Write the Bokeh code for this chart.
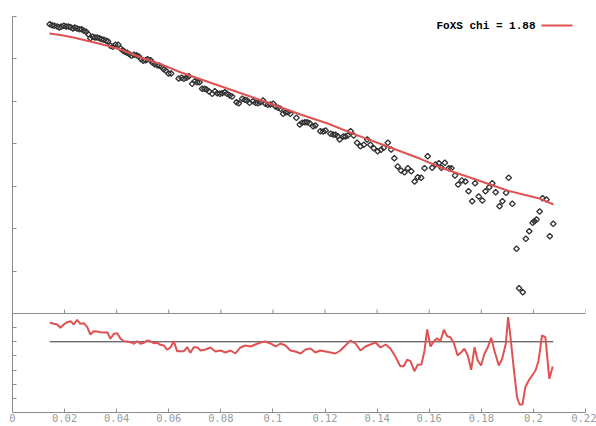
import math
from bokeh.plotting import figure
from bokeh.models import Range1d, FixedTicker, Label, BoxAnnotation, Span, CustomJSTickFormatter
from bokeh.embed import file_html
from bokeh.resources import INLINE

# ---- data (q in 1/A, top panel: log10 intensity, bottom: residual) ----
exp_q = [0.0143, 0.0152, 0.0161, 0.0172, 0.0180, 0.0188, 0.0197, 0.0206, 0.0215, 0.0223,
         0.0232, 0.0239, 0.0248, 0.0257, 0.0265, 0.0274, 0.0283, 0.0291, 0.0299, 0.0308,
         0.0316, 0.0325, 0.0334, 0.0342, 0.0351, 0.0360, 0.0367, 0.0376, 0.0385, 0.0395,
         0.0406, 0.0415, 0.0423, 0.0431, 0.0440, 0.0449, 0.0457, 0.0466, 0.0476, 0.0485,
         0.0494, 0.0502, 0.0511, 0.0519, 0.0530, 0.0537, 0.0546, 0.0556, 0.0564, 0.0572,
         0.0581, 0.0589, 0.0599, 0.0609, 0.0638, 0.0649, 0.0658, 0.0668, 0.0677, 0.0690,
         0.0700, 0.0709, 0.0718, 0.0728, 0.0737, 0.0745, 0.0755, 0.0767, 0.0777, 0.0786,
         0.0796, 0.0805, 0.0815, 0.0824, 0.0834, 0.0843, 0.0860, 0.0869, 0.0882, 0.0892,
         0.0901, 0.0910, 0.0923, 0.0933, 0.0942, 0.0952, 0.0962, 0.0971, 0.0980, 0.0990,
         0.1001, 0.1010, 0.1020, 0.1029, 0.1039, 0.1049, 0.1058, 0.1067, 0.1090, 0.1103,
         0.1112, 0.1122, 0.1131, 0.1141, 0.1154, 0.1163, 0.1182, 0.1193, 0.1202, 0.1221,
         0.1231, 0.1240, 0.1249, 0.1256, 0.1270, 0.1278, 0.1287, 0.1298, 0.1310, 0.1323,
         0.1336, 0.1349, 0.1362, 0.1374, 0.1387, 0.1402, 0.1415, 0.1425, 0.1441, 0.1454,
         0.1466, 0.1479, 0.1492, 0.1505, 0.1518, 0.1531, 0.1544, 0.1556, 0.1569, 0.1582,
         0.1594, 0.1611, 0.1624, 0.1637, 0.1647, 0.1660, 0.1675, 0.1685, 0.1699, 0.1711,
         0.1725, 0.1739, 0.1751, 0.1765, 0.1776, 0.1790, 0.1804, 0.1816, 0.1830, 0.1842,
         0.1855, 0.1870, 0.1881, 0.1895, 0.1905, 0.1919, 0.1935, 0.1945, 0.1959, 0.1971,
         0.1984, 0.1997, 0.2004, 0.2012, 0.2024, 0.2035, 0.2050, 0.2063, 0.2076]
exp_logI = [6.818, 6.795, 6.781, 6.764, 6.740, 6.764, 6.781, 6.764, 6.764, 6.748,
            6.717, 6.740, 6.717, 6.700, 6.700, 6.663, 6.639, 6.583, 6.488, 6.521,
            6.505, 6.505, 6.488, 6.465, 6.451, 6.427, 6.411, 6.309, 6.286, 6.333,
            6.333, 6.246, 6.206, 6.168, 6.144, 6.111, 6.074, 6.097, 6.088, 6.057,
            5.994, 5.956, 5.970, 5.994, 5.970, 5.916, 5.876, 5.852, 5.838, 5.814,
            5.758, 5.720, 5.656, 5.656, 5.539, 5.555, 5.531, 5.555, 5.593, 5.414,
            5.475, 5.451, 5.451, 5.296, 5.296, 5.279, 5.232, 5.178, 5.239, 5.192,
            5.178, 5.192, 5.216, 5.178, 5.138, 5.114, 4.980, 4.956, 5.060, 5.037,
            5.020, 4.966, 5.004, 4.966, 4.956, 4.980, 5.020, 4.942, 4.919, 4.926,
            4.942, 4.879, 4.848, 4.824, 4.707, 4.744, 4.744, 4.707, 4.612, 4.454,
            4.494, 4.509, 4.509, 4.485, 4.414, 4.431, 4.297, 4.289, 4.313, 4.235,
            4.219, 4.212, 4.179, 4.101, 4.172, 4.172, 4.195, 4.297, 4.195, 4.023,
            3.943, 3.976, 4.101, 3.976, 3.896, 3.825, 3.858, 3.905, 4.023, 3.865,
            3.660, 3.465, 3.370, 3.330, 3.424, 3.354, 3.111, 3.212, 3.198, 3.424,
            3.707, 3.434, 3.512, 3.542, 3.434, 3.552, 3.424, 3.424, 3.252, 3.040,
            3.135, 3.111, 2.882, 2.647, 3.071, 2.757, 2.663, 2.882, 2.977, 3.071,
            2.859, 2.529, 2.647, 2.845, 3.198, 2.585, 1.525, 0.596, 0.502, 1.761,
            1.940, 2.138, 2.175, 2.215, 2.404, 2.717, 2.687, 1.822, 2.114]

fit_q = [0.0142, 0.0184, 0.0234, 0.0299, 0.0365, 0.0426, 0.0491, 0.0568, 0.0645, 0.0772,
         0.0902, 0.1029, 0.1106, 0.1213, 0.1309, 0.1440, 0.1566, 0.1643, 0.1770, 0.1900,
         0.2027, 0.2077]
fit_logI = [6.599, 6.564, 6.505, 6.411, 6.309, 6.199, 6.033, 5.880, 5.687, 5.414,
            5.138, 4.862, 4.690, 4.471, 4.235, 3.936, 3.646, 3.441, 3.175, 2.899,
            2.703, 2.569]

res_q = [0.0143, 0.0159, 0.0172, 0.0184, 0.0197, 0.0210, 0.0223, 0.0235, 0.0248, 0.0261,
         0.0274, 0.0287, 0.0299, 0.0312, 0.0325, 0.0338, 0.0351, 0.0364, 0.0376, 0.0389,
         0.0402, 0.0415, 0.0427, 0.0440, 0.0453, 0.0466, 0.0479, 0.0491, 0.0504, 0.0517,
         0.0530, 0.0542, 0.0556, 0.0568, 0.0581, 0.0594, 0.0607, 0.0619, 0.0632, 0.0645,
         0.0658, 0.0671, 0.0683, 0.0696, 0.0709, 0.0722, 0.0741, 0.0760, 0.0779, 0.0799,
         0.0818, 0.0837, 0.0856, 0.0875, 0.0894, 0.0914, 0.0933, 0.0952, 0.0971, 0.0990,
         0.1010, 0.1029, 0.1048, 0.1067, 0.1086, 0.1106, 0.1125, 0.1144, 0.1163, 0.1182,
         0.1202, 0.1221, 0.1240, 0.1259, 0.1278, 0.1298, 0.1317, 0.1336, 0.1355, 0.1374,
         0.1394, 0.1413, 0.1432, 0.1451, 0.1470, 0.1489, 0.1502, 0.1515, 0.1528, 0.1543,
         0.1556, 0.1570, 0.1582, 0.1592, 0.1605, 0.1617, 0.1630, 0.1643, 0.1656, 0.1669,
         0.1681, 0.1694, 0.1709, 0.1723, 0.1735, 0.1748, 0.1761, 0.1774, 0.1786, 0.1799,
         0.1812, 0.1825, 0.1838, 0.1850, 0.1867, 0.1880, 0.1894, 0.1903, 0.1912, 0.1924,
         0.1937, 0.1947, 0.1958, 0.1969, 0.1982, 0.1995, 0.2008, 0.2020, 0.2033, 0.2046,
         0.2061, 0.2074]
res_val = [1.344, 1.273, 1.223, 0.990, 1.223, 1.386, 1.457, 1.223, 1.556, 1.273,
           1.315, 1.033, 0.516, 0.750, 0.728, 0.679, 0.658, 0.679, 0.212, 0.566,
           0.608, 0.212, 0.042, 0.021, -0.028, -0.141, 0.042, -0.141, -0.071, 0.092,
           0.021, -0.099, -0.071, -0.212, -0.262, -0.566, -0.382, 0.042, -0.665, -0.665,
           -0.665, -0.382, -0.778, -0.382, -0.382, -0.615, -0.545, -0.403, -0.686, -0.615,
           -0.757, -0.615, -0.827, -0.403, -0.262, -0.332, -0.191, -0.050, 0.021, -0.120,
           -0.332, -0.120, -0.262, -0.615, -0.686, -0.827, -0.545, -0.474, -0.757, -0.615,
           -0.686, -0.757, -0.827, -0.615, -0.262, 0.092, -0.120, -0.615, -0.332, -0.191,
           -0.050, -0.403, -0.191, -0.474, -1.040, -1.726, -1.726, -1.273, -1.372, -2.079,
           -1.627, -1.605, -0.615, 0.870, -0.332, 0.021, 0.255, 0.042, 0.849, 0.396,
           0.325, -0.071, -0.969, -0.736, -0.495, -0.969, -1.980, -0.382, -1.322, -1.676,
           -0.849, -0.382, 0.283, -0.615, -1.676, -1.202, -0.141, 1.740, 0.325, -1.796,
           -3.918, -4.434, -4.434, -3.211, -2.737, -2.383, -2.030, -1.322, 0.446, 0.325,
           -2.617, -1.747]

x_ticks = [0.0, 0.02, 0.04, 0.06, 0.08, 0.1, 0.12, 0.14, 0.16, 0.18, 0.2, 0.22]
x_tick_labels = ["0", "0.02", "0.04", "0.06", "0.08", "0.1", "0.12", "0.14", "0.16", "0.18", "0.2", "0.22"]
legend_text = "FoXS chi = 1.88"

RED = "#e05252"
AXIS = "#8c8c8c"

# residual scale: unit = 1/3 of top-panel decade; top panel value v <-> residual 2 + 3 v
p = figure(frame_width=573, frame_height=396, output_backend="svg", toolbar_location=None,
           x_range=Range1d(0, 0.22), y_range=Range1d(-5, 23),
           min_border_left=12, min_border_right=11, min_border_top=16, min_border_bottom=0)
p.extra_y_ranges = {"top": Range1d(-7.0 / 3.0, 7.0)}
p.outline_line_color = None
p.xgrid.visible = False
p.ygrid.visible = False
p.background_fill_color = "white"
p.border_fill_color = "white"

# axes
xa = p.xaxis[0]
xa.ticker = FixedTicker(ticks=x_ticks)
xa.major_label_overrides = {t: l for t, l in zip(x_ticks, x_tick_labels)}
xa.major_tick_in = 4
xa.major_tick_out = 0
xa.minor_tick_line_color = None
xa.axis_line_color = AXIS
xa.major_tick_line_color = AXIS
xa.major_label_standoff = 1
xa.major_label_text_font = "DejaVu Sans Mono"
xa.major_label_text_font_size = "10.5px"
xa.major_label_text_color = "#9a9a9a"

ya = p.yaxis[0]
ya.ticker = FixedTicker(ticks=[-5, -4, -3, -2, -1, 0, 1, 2, 5, 8, 11, 14, 17, 20, 23])
ya.formatter = CustomJSTickFormatter(code="return ''")
ya.major_tick_in = 4
ya.major_tick_out = 0
ya.minor_tick_line_color = None
ya.major_label_standoff = 0
ya.major_label_text_font_size = "1px"
ya.axis_line_color = AXIS
ya.major_tick_line_color = AXIS

# divider between panels with upward ticks
p.add_layout(Span(location=2, dimension="width", line_color=AXIS, line_width=1))
p.ray(x=x_ticks[1:], y=[2] * (len(x_ticks) - 1), length=4, length_units="screen",
      angle=math.pi / 2, line_color=AXIS, line_width=1)

# top panel
p.scatter(exp_q, exp_logI, y_range_name="top", marker="square", angle=math.pi / 4,
          size=4, fill_color=None, line_color="#333333", line_width=1.3)
p.line(fit_q, fit_logI, y_range_name="top", line_color=RED, line_width=2)

# legend
p.add_layout(Label(x=0.2008, y=6.77, y_range_name="top", text=legend_text,
                   text_font="Liberation Mono", text_font_style="bold",
                   text_font_size="11px", text_color="black", text_baseline="middle",
                   text_align="right"))
p.add_layout(BoxAnnotation(left=0.2031, right=0.2150, bottom=6.765, top=6.812,
                           y_range_name="top", fill_color=RED, fill_alpha=1.0,
                           line_color=None))

# residual panel
p.segment(x0=[exp_q[0]], y0=[0], x1=[exp_q[-1]], y1=[0], line_color="#333333", line_width=1)
p.line(res_q, res_val, line_color=RED, line_width=2)

open("out.html", "w").write(file_html(p, INLINE))
